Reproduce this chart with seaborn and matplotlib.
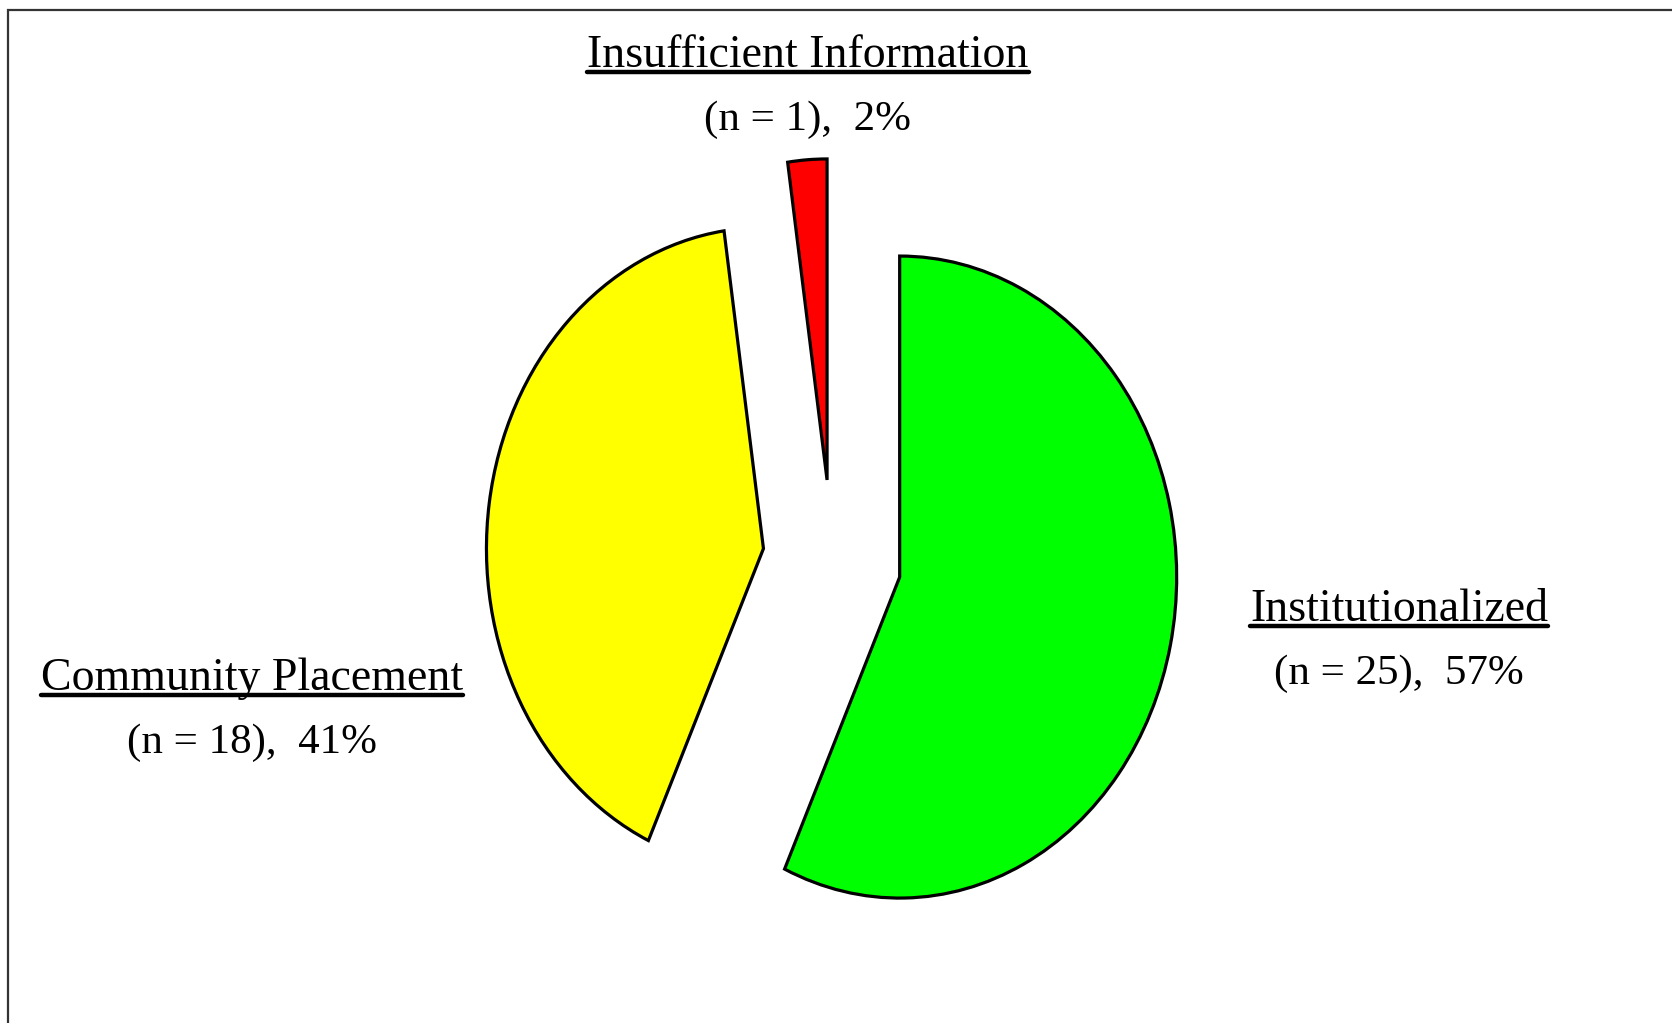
# Exploded pie of placement outcomes with underlined category labels
import seaborn as sns
import matplotlib.pyplot as plt
from matplotlib.lines import Line2D
from matplotlib.patches import Rectangle

OUTPUT_PNG = 'out.png'

categories = ['Institutionalized', 'Community Placement', 'Insufficient Information']
counts = [25, 18, 1]
percents = [57, 41, 2]
colors = ['#00FF00', '#FFFF00', '#FF0000']

# label anchor (x centre, baseline of name) in pixels of the 1672x1023 canvas
label_pos = {
    'Institutionalized': (1399, 621),
    'Community Placement': (252, 690),
    'Insufficient Information': (808, 67),
}

W, H = 1672, 1023


def draw_figure():
    sns.set_theme(style='white')
    plt.rcParams['font.family'] = ['Liberation Serif', 'DejaVu Serif']
    plt.rcParams['text.color'] = 'black'

    fig = plt.figure(figsize=(W / 100, H / 100), dpi=100)
    ax = fig.add_axes([0, 0, 1, 1])

    # ------------------------------
    # Pie (stretched ellipse like the original)
    # ------------------------------
    ax.pie(
        counts,
        colors=colors,
        startangle=90,
        counterclock=False,
        explode=[0.25] * len(counts),
        wedgeprops={'edgecolor': 'black', 'linewidth': 2.3},
    )
    ax.set_aspect('auto')
    cx, cy = 832, H - 560      # pie centre in pixels
    rx, ry = 277, 321          # pixels per data unit
    ax.set_xlim(-cx / rx, (W - cx) / rx)
    ax.set_ylim(-cy / ry, (H - cy) / ry)
    ax.axis('off')

    # ------------------------------
    # Labels
    # ------------------------------
    name_texts = []
    for cat, n, pct in zip(categories, counts, percents):
        x, y = label_pos[cat]
        t = fig.text(x / W, 1 - y / H, cat, ha='center', va='baseline',
                     fontsize=33, color='black')
        name_texts.append((t, y))
        fig.text(x / W, 1 - (y + 63) / H, f'(n = {n}),  {pct}%',
                 ha='center', va='baseline', fontsize=31, color='black')

    # underline the category names
    fig.canvas.draw()
    renderer = fig.canvas.get_renderer()
    for t, y in name_texts:
        bb = t.get_window_extent(renderer)
        yl = 1 - (y + 5) / H
        fig.add_artist(Line2D([bb.x0 / W, bb.x1 / W], [yl, yl],
                              color='black', linewidth=3.2,
                              transform=fig.transFigure))

    # outer frame (only left and top edges visible in the crop)
    fig.add_artist(Rectangle((8 / W, -0.1), 1.2, 1.1 - 10 / H,
                             fill=False, edgecolor='#333333', linewidth=1.6,
                             transform=fig.transFigure))

    fig.savefig(OUTPUT_PNG, dpi=100)


if __name__ == '__main__':
    draw_figure()
